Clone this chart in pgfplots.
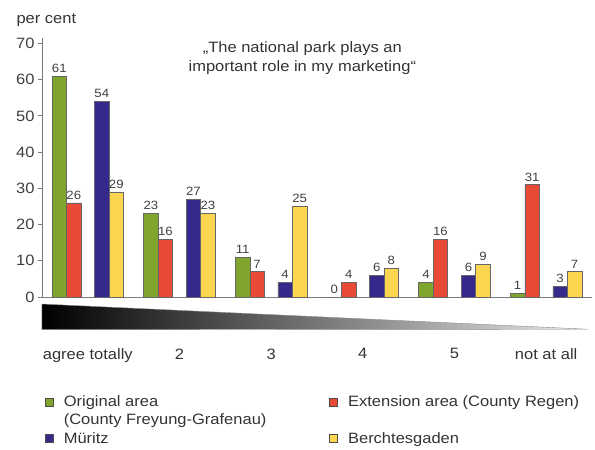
\documentclass[border=0pt]{standalone}
\usepackage{fontspec}
\setmainfont{Liberation Sans}[FakeStretch=1.1]
\usepackage{pgfplots}
\pgfplotsset{compat=1.18}

\definecolor{cgreen}{HTML}{7FA52E}
\definecolor{cred}{HTML}{E84A35}
\definecolor{cblue}{HTML}{352A8C}
\definecolor{cyellow}{HTML}{FDD64F}
\definecolor{axisgray}{HTML}{7A7A7A}

% categories 0..5: agree totally, 2, 3, 4, 5, not at all
\pgfplotstableread{
x green red blue yellow
0 61 26 54 29
1 23 16 27 23
2 11  7  4 25
3  0  4  6  8
4  4 16  6  9
5  1 31  3  7
}\answers

\begin{document}
\begin{tikzpicture}
\useasboundingbox (-42pt,-153pt) rectangle (553pt,297pt);
\begin{axis}[
  scale only axis,
  width=550pt, height=259pt,
  xmin=-0.5, xmax=5.5,
  ymin=0, ymax=71.5,
  /pgf/number format/assume math mode=true,
  axis lines=left,
  axis line style={-, axisgray, line width=0.8pt},
  clip=false,
  ybar, bar width=14.5pt,
  ytick={0,10,...,70},
  yticklabel style={font=\fontsize{15}{18}\selectfont, text=black!75},
  y tick style={axisgray, line width=0.8pt},
  tick align=outside,
  major tick length=4pt,
  xtick={0,...,5},
  xticklabels={agree totally,2,3,4,5,not at all},
  x tick style={draw=none},
  xticklabel style={font=\fontsize{15}{18}\selectfont, text=black!80, yshift=-44pt},
  nodes near coords,
  every node near coord/.append style={font=\fontsize{12}{14}\selectfont, text=black!75},
  legend columns=2,
  legend style={at={(axis cs:-0.5,-26.2)}, anchor=north west, draw=none, fill=none,
    font=\fontsize{15}{18}\selectfont, text=black!80,
    cells={anchor=base west}, row sep=20pt,
    /tikz/every odd column/.append style={column sep=8pt},
    /tikz/every even column/.append style={column sep=61pt}},
  legend image code/.code={\draw[#1, draw=black!70, line width=0.6pt] (0pt,1pt) rectangle (8pt,9pt);},
]
\shade[left color=black, right color=black!8, draw=black!45, line width=0.4pt]
  (axis cs:-0.5,-1.94) -- (axis cs:5.46,-8.9) -- (axis cs:-0.5,-9.0) -- cycle;

\addplot[bar shift=-28.5pt, fill=cgreen, draw=black!60, line width=0.5pt]
  table[x=x, y=green] {\answers};
\addplot[bar shift=-14pt, fill=cred, draw=black!60, line width=0.5pt]
  table[x=x, y=red] {\answers};
\addplot[bar shift=14pt, fill=cblue, draw=black!60, line width=0.5pt]
  table[x=x, y=blue] {\answers};
\addplot[bar shift=28.5pt, fill=cyellow, draw=black!60, line width=0.5pt]
  table[x=x, y=yellow] {\answers};

\legend{\vtop{\hbox{Original area}\hbox{(County Freyung-Grafenau)}}, Extension area (County Regen), Müritz, Berchtesgaden}

\node[anchor=base west, font=\fontsize{15}{18}\selectfont, text=black!80]
  at (rel axis cs:0,1) [xshift=-29pt, yshift=14pt] {per cent};
\node[align=center, font=\fontsize{15}{19}\selectfont, text=black!80]
  at (axis cs:2.34,66) {„The national park plays an\\important role in my marketing“};
\end{axis}
\end{tikzpicture}
\end{document}
